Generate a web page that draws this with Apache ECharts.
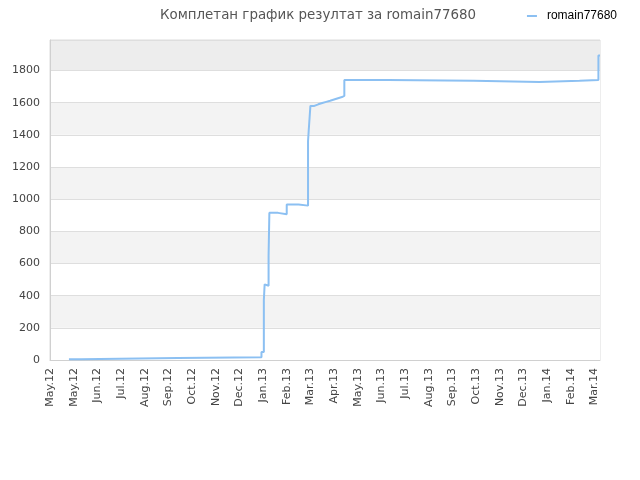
<!DOCTYPE html>
<html><head><meta charset="utf-8">
<script src="https://cdn.jsdelivr.net/npm/echarts@6/dist/echarts.min.js"></script>
<style>html,body{margin:0;padding:0;background:#fff}#c{width:640px;height:480px}</style>
</head><body><div id="c"></div>
<script>
const titleText = 'Комплетан график резултат за romain77680';
const seriesName = 'romain77680';
// x tick labels, one every 30 days from the start of the axis
const tickLabels = ['May.12','May.12','Jun.12','Jul.12','Aug.12','Sep.12','Oct.12','Nov.12','Dec.12','Jan.13','Feb.13','Mar.13','Apr.13','May.13','Jun.13','Jul.13','Aug.13','Sep.13','Oct.13','Nov.13','Dec.13','Jan.14','Feb.14','Mar.14'];
// day offsets (from axis start) and scores
const days   = [24, 39, 162, 268, 271, 272, 274, 277, 278, 289, 300, 315, 327, 328, 330, 335, 340, 345, 350, 355, 360, 365, 370, 373, 428, 537, 620, 671, 695, 697];
const scores = [5, 12, 17, 50, 372, 470, 462, 648, 915, 906, 967, 960, 1360, 1438, 1580, 1590, 1598, 1605, 1612, 1620, 1628, 1635, 1642, 1742, 1736, 1729, 1736, 1742, 1893, 1893];
const yTickStep = 200;
const xTickStep = 30;
const xMax = 697;
const yMax = 1990;

const chart = echarts.init(document.getElementById('c'));
chart.setOption({
  animation: false,
  textStyle: {fontFamily: 'DejaVu Sans'},
  title: {text: titleText, left: 313, textAlign: 'center', top: 4,
    textStyle: {fontSize: 13.4, fontWeight: 'normal', color: '#555', fontFamily: 'DejaVu Sans'}},
  legend: {right: 18, top: 5, icon: 'rect', itemWidth: 10, itemHeight: 2, itemGap: 6,
    textStyle: {fontSize: 12, color: '#000', fontFamily: 'Liberation Sans', padding: [0, 0, 0, 5]},
    data: [seriesName]},
  grid: {left: 50, right: 40, top: 40, bottom: 120, show: true, borderColor: '#dcdcdc', borderWidth: 1},
  xAxis: {type: 'value', min: 0, max: xMax, interval: xTickStep,
    axisLine: {show: true, lineStyle: {color: '#d0d0d0'}},
    axisTick: {show: false}, splitLine: {show: false},
    axisLabel: {rotate: 90, fontSize: 11, color: '#444', margin: 8, showMaxLabel: false,
      formatter: v => { const i = Math.round(v / xTickStep); return (v % xTickStep === 0 && tickLabels[i]) ? tickLabels[i] : ''; }}},
  yAxis: {type: 'value', min: 0, max: yMax, interval: yTickStep,
    axisLine: {show: true, lineStyle: {color: '#d0d0d0'}},
    axisTick: {show: false},
    splitLine: {show: true, lineStyle: {color: '#dedede'}},
    splitArea: {show: true, areaStyle: {color: ['#ffffff','#f3f3f3','#ffffff','#f3f3f3','#ffffff','#f3f3f3','#ffffff','#f3f3f3','#ffffff','#ededed']}},
    axisLabel: {fontSize: 11, color: '#444', margin: 10, showMaxLabel: false,
      formatter: v => (v % yTickStep === 0 ? String(v) : '')}},
  series: [{name: seriesName, type: 'line', step: 'end', showSymbol: false,
    lineStyle: {color: '#8cc0f2', width: 2},
    itemStyle: {color: '#8cc0f2'},
    data: days.map((d, i) => [d, scores[i]])}]
});
</script></body></html>
